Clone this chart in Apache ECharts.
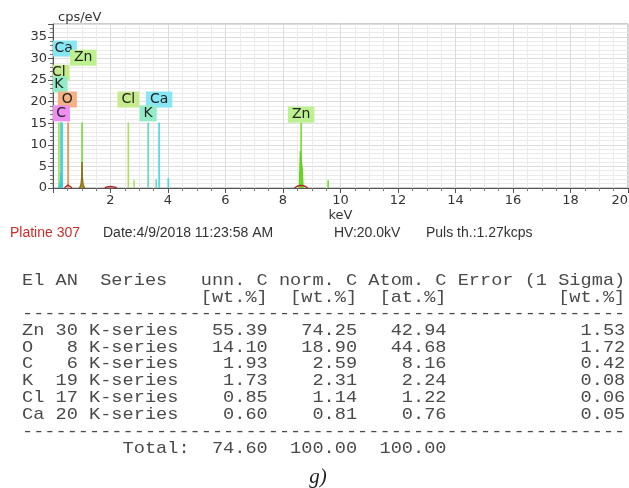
<!DOCTYPE html>
<html>
<head>
<meta charset="utf-8">
<script src="https://cdn.jsdelivr.net/npm/echarts@6/dist/echarts.min.js"></script>
<style>
  html, body { margin: 0; padding: 0; background: #fff; }
  #chart { width: 629px; height: 488px; }
</style>
</head>
<body>
<div id="chart"></div>
<script>
// ---- EDS spectrum: element line markers (keV, marker height in cps/eV) ----
const lineElements = ['Cl', 'C', 'K', 'Ca', 'O', 'Zn', 'Cl', 'Cl', 'K', 'K', 'Ca', 'Ca', 'Zn', 'Zn'];
const lineEnergies = [0.20, 0.28, 0.26, 0.32, 0.525, 1.01, 2.62, 2.82, 3.31, 3.59, 3.69, 4.01, 8.63, 9.57];
const lineHeights  = [15.2, 15.2, 15.2, 15.2, 15.2, 15.2, 15.2, 1.8, 15.2, 2.0, 15.2, 2.3, 15.2, 1.8];

// ---- element label boxes: centre energy (keV) and centre level (cps/eV) ----
const labelElements = ['Ca', 'Zn', 'Cl', 'K', 'O', 'C', 'Cl', 'Ca', 'K', 'Zn'];
const labelEnergies = [0.37, 1.05, 0.20, 0.20, 0.50, 0.28, 2.62, 3.69, 3.31, 8.63];
const labelLevels   = [32.3, 30.2, 26.7, 24.0, 20.5, 17.3, 20.5, 20.5, 17.3, 17.0];

// ---- measured spectrum (keV, cps/eV); '-' separates the visible humps ----
const spectrumKeV = [0.40, 0.46, 0.52, 0.58, 0.66, 0.7, 1.80, 1.90, 2.00, 2.10, 2.22, 2.3, 8.40, 8.48, 8.56, 8.63, 8.70, 8.78, 8.86];
const spectrumCps = [0.05, 0.30, 0.70, 0.30, 0.05, '-', 0.05, 0.25, 0.35, 0.25, 0.05, '-', 0.05, 0.35, 0.55, 0.60, 0.55, 0.35, 0.05];

// ---- fitted peaks ----
const peakLowKeV = [0.20, 0.25, 0.27, 0.30, 0.34];
const peakLowCps = [0.00, 1.50, 3.50, 1.50, 0.00];
const peakZnLKeV = [0.92, 0.97, 0.995, 1.01, 1.025, 1.05, 1.10];
const peakZnLCps = [0.00, 0.90, 2.60, 6.00, 2.60, 0.90, 0.00];
const peakZnKKeV = [8.56, 8.58, 8.60, 8.66, 8.68, 8.70];
const peakZnKCps = [0.00, 4.00, 8.50, 8.50, 4.00, 0.00];

// ---- axis ticks ----
const xTicks = { min: 0, max: 20, step: 2 };
const yTicks = { min: 0, max: 38, step: 5 };

// ---- quantification table ----
const tblElements = ['Zn', 'O', 'C', 'K', 'Cl', 'Ca'];
const tblAN       = [30, 8, 6, 19, 17, 20];
const tblSeries   = ['K-series', 'K-series', 'K-series', 'K-series', 'K-series', 'K-series'];
const tblUnn      = ['55.39', '14.10', '1.93', '1.73', '0.85', '0.60'];
const tblNorm     = ['74.25', '18.90', '2.59', '2.31', '1.14', '0.81'];
const tblAtom     = ['42.94', '44.68', '8.16', '2.24', '1.22', '0.76'];
const tblErr      = ['1.53', '1.72', '0.42', '0.08', '0.06', '0.05'];
const tblTotals   = ['74.60', '100.00', '100.00'];

const footerTexts = ['Platine 307', 'Date:4/9/2018 11:23:58 AM', 'HV:20.0kV', 'Puls th.:1.27kcps'];

// ---- styles ----
const lineColor = { Ca: '#45d6ea', Zn: '#74dc2c', Cl: '#acdf5e', K: '#5fdfb2', O: '#ef8a4c', C: '#dd66dd' };
const boxColor  = { Ca: '#86e6f4', Zn: '#bdf08f', Cl: '#c6eb8c', K: '#92ecc8', O: '#f4b184', C: '#ee8ef0' };
const AX_FONT = '"DejaVu Sans", Verdana, sans-serif';

const zip = (a, b) => a.map((v, i) => [v, b[i]]);

// ---- table text lines ----
function fmtRow(i) {
  return tblElements[i].padEnd(3) + String(tblAN[i]).padStart(2) + ' ' + tblSeries[i] +
    tblUnn[i].padStart(8) + tblNorm[i].padStart(8) + tblAtom[i].padStart(8) + tblErr[i].padStart(16);
}
const dashLine = '-'.repeat(54);
const tableLines = [
  'El AN  Series   unn. C norm. C Atom. C Error (1 Sigma)',
  '                [wt.%]  [wt.%]  [at.%]          [wt.%]',
  dashLine
].concat(tblElements.map((_, i) => fmtRow(i))).concat([
  dashLine,
  '         Total:' + tblTotals[0].padStart(7) + tblTotals[1].padStart(8) + tblTotals[2].padStart(8)
]);
const tableY = [280, 297, 313, 330, 347, 363.5, 380, 397, 414, 431, 448];

const chart = echarts.init(document.getElementById('chart'), null, { renderer: 'canvas' });

const graphics = [];
tableLines.forEach((t, i) => {
  graphics.push({
    type: 'text', x: 22, y: tableY[i], scaleX: 1.095,
    style: { text: t, font: '17px "Liberation Mono", "Courier New", monospace', fill: '#4a4a4a', verticalAlign: 'middle' }
  });
});
const footerX = [10, 103, 334, 426];
footerTexts.forEach((t, i) => {
  graphics.push({
    type: 'text', x: footerX[i], y: 233,
    style: { text: t, font: '14px "Liberation Sans", Arial, sans-serif', fill: i === 0 ? '#cc2b2b' : '#333', verticalAlign: 'middle' }
  });
});
graphics.push({
  type: 'text', x: 318, y: 477,
  style: { text: 'g)', font: 'italic 21px "Liberation Serif", "Times New Roman", serif', fill: '#222', align: 'center', verticalAlign: 'middle' }
});

chart.setOption({
  animation: false,
  backgroundColor: '#fff',
  grid: {
    left: 53, right: 1, top: 24, bottom: 300,
    outerBoundsMode: 'none', containLabel: false,
    show: true, borderColor: '#9a9a9a', borderWidth: 1
  },
  xAxis: {
    type: 'value', min: xTicks.min, max: xTicks.max, interval: xTicks.step,
    name: 'keV', nameLocation: 'middle', nameGap: 21,
    nameTextStyle: { fontFamily: AX_FONT, fontSize: 13, color: '#333' },
    axisLine: { show: true, onZero: false, lineStyle: { color: '#555' } },
    axisTick: { show: true, length: 5, lineStyle: { color: '#555' } },
    minorTick: { show: true, splitNumber: 4, length: 3, lineStyle: { color: '#777' } },
    axisLabel: { showMinLabel: false, alignMaxLabel: 'right', margin: 6, fontFamily: AX_FONT, fontSize: 13, color: '#333' },
    splitLine: { show: true, lineStyle: { color: '#dcdcdc' } },
    minorSplitLine: { show: true, lineStyle: { color: '#ebebeb' } }
  },
  yAxis: {
    type: 'value', min: yTicks.min, max: yTicks.max, interval: yTicks.step,
    name: 'cps/eV', nameLocation: 'end', nameGap: 0,
    nameTextStyle: { fontFamily: AX_FONT, fontSize: 13, color: '#333', align: 'left', padding: [0, 0, 0, 5] },
    axisLine: { show: true, lineStyle: { color: '#555' } },
    axisTick: { show: true, length: 5, lineStyle: { color: '#555' } },
    minorTick: { show: true, splitNumber: 5, length: 3, lineStyle: { color: '#777' } },
    axisLabel: { showMaxLabel: false, margin: 6, fontFamily: AX_FONT, fontSize: 13, color: '#333' },
    splitLine: { show: true, lineStyle: { color: '#dcdcdc' } },
    minorSplitLine: { show: true, lineStyle: { color: '#ebebeb' } }
  },
  graphic: graphics,
  series: [
    {
      // element line markers
      type: 'custom', clip: true, z: 3,
      data: lineEnergies.map((e, i) => [e, lineHeights[i]]),
      renderItem(params, api) {
        const p0 = api.coord([api.value(0), 0]);
        const p1 = api.coord([api.value(0), api.value(1)]);
        return {
          type: 'line',
          shape: { x1: p0[0], y1: p0[1], x2: p1[0], y2: p1[1] },
          style: { stroke: lineColor[lineElements[params.dataIndex]], lineWidth: 1.6 }
        };
      }
    },
    {
      type: 'line', data: zip(peakLowKeV, peakLowCps), symbol: 'none', z: 4,
      lineStyle: { color: '#3cc8dc', width: 1 }, areaStyle: { color: '#3cc8dc', opacity: 1 }
    },
    {
      type: 'line', data: zip(peakZnLKeV, peakZnLCps), symbol: 'none', z: 4,
      lineStyle: { color: '#8a6a10', width: 1 }, areaStyle: { color: '#a88420', opacity: 1 }
    },
    {
      type: 'line', data: zip(peakZnKKeV, peakZnKCps), symbol: 'none', z: 4,
      lineStyle: { color: '#5cd018', width: 1 }, areaStyle: { color: '#66d61e', opacity: 1 }
    },
    {
      type: 'line', data: zip(spectrumKeV, spectrumCps), symbol: 'none', z: 5, connectNulls: false,
      lineStyle: { color: '#b32020', width: 1.4 }
    },
    {
      // element label boxes
      type: 'custom', clip: true, z: 6,
      data: labelEnergies.map((e, i) => [e, labelLevels[i]]),
      renderItem(params, api) {
        const p = api.coord([api.value(0), api.value(1)]);
        const el = labelElements[params.dataIndex];
        return {
          type: 'text', x: p[0], y: p[1],
          style: {
            text: el, font: '14px ' + AX_FONT, fill: '#222',
            align: 'center', verticalAlign: 'middle',
            backgroundColor: boxColor[el], padding: [2, 4, 0, 4]
          }
        };
      }
    }
  ]
});
</script>
</body>
</html>
